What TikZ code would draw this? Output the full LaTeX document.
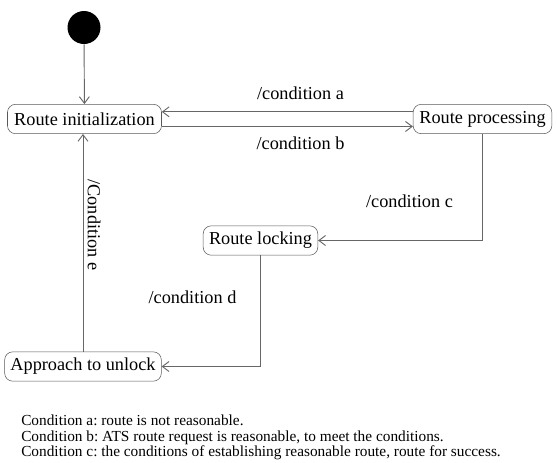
\documentclass[tikz,border=0pt]{standalone}
\usepackage{fontspec}
\setmainfont{Liberation Serif}
\usetikzlibrary{arrows.meta}
\frenchspacing
\begin{document}
\begin{tikzpicture}[x=0.75pt, y=-0.75pt,
    state/.style={draw=black!65, rounded corners=6pt, inner sep=0pt, minimum height=22pt,
      font=\fontsize{13.7}{16}\selectfont},
    trans/.style={draw=black!60, line width=0.7pt, -{Straight Barb[length=5pt, width=7.5pt]}},
    cond/.style={font=\fontsize{13.7}{16}\selectfont},
    note/.style={anchor=base west, inner sep=0pt, font=\fontsize{11.5}{13}\selectfont}]
  \useasboundingbox (0,0) rectangle (557,462);
  \node[circle, fill=black, minimum size=24.75pt, inner sep=0pt] (start) at (84,27.5) {};
  \node[state, minimum width=115.5pt] (init) at (84.5,119) {Route initialization};
  \node[state, minimum width=104pt] (proc) at (482.5,119) {Route processing};
  \node[state, minimum width=86pt] (lock) at (260.5,240.5) {Route locking};
  \node[state, minimum width=117.5pt] (unlock) at (83,366.5) {Approach to unlock};
  % the two transitions between initialization and processing run side by side
  \draw[trans] (start) -- (init);
  \draw[trans] ([yshift=5.4pt]proc.west) -- ([yshift=5.4pt]init.east);
  \draw[trans] ([yshift=-5.6pt]init.east) -- ([yshift=-5.6pt]proc.west);
  \draw[trans] (proc.south) |- (lock.east);
  \draw[trans] (lock.south) |- (unlock.east);
  \draw[trans] (unlock.north) -- (unlock.north |- init.south);
  \node[cond] (conda) at (300.5,93) {/condition a};
  \node[cond] (condb) at (300.5,143) {/condition b};
  \node[cond] (condc) at (409.5,201.5) {/condition c};
  \node[cond] (condd) at (192.5,297) {/condition d};
  \node[cond, rotate=-90] (conde) at (94,225) {/Condition e};
  \node[note] (nota) at (21,425) {Condition a: route is not reasonable.};
  \node[note] (notb) at (21,441) {Condition b: ATS route request is reasonable, to meet the conditions.};
  \node[note] (notc) at (21,456) {Condition c: the conditions of establishing reasonable route, route for success.};
\end{tikzpicture}
\end{document}
